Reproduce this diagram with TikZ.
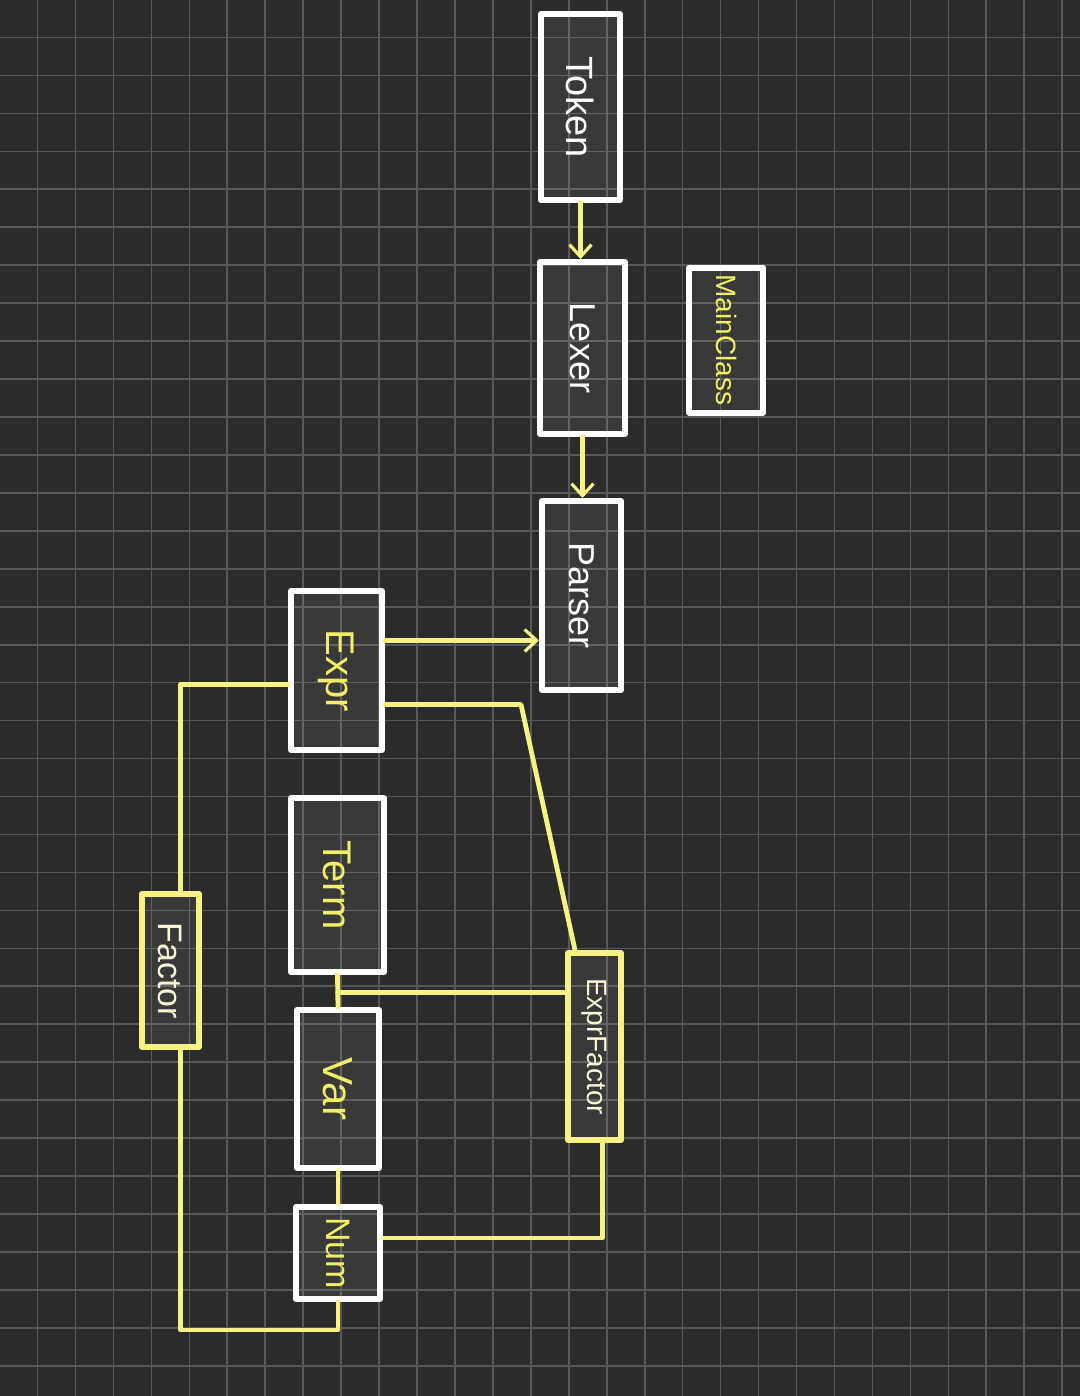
\documentclass[tikz,border=0pt]{standalone}
\usepackage{fontspec}
\setmainfont{Liberation Sans}
\usetikzlibrary{arrows.meta,calc}
\definecolor{bg}{HTML}{2B2B2B}
\definecolor{gridc}{HTML}{585858}
\definecolor{hly}{HTML}{F6F283}
\definecolor{txty}{HTML}{F2EE66}
\definecolor{cream}{HTML}{FBF8D8}
\tikzset{
 box/.style={draw=white, line width=3pt, fill=white, fill opacity=0.07, text opacity=1, inner sep=0pt, line join=round},
 ybox/.style={box, draw=hly},
 wire/.style={draw=hly, line width=2.4pt, line join=round, line cap=round},
 arr/.style={wire, -{Straight Barb[length=6pt,width=11pt,line width=1.6pt]}},
 fs/.style={font=\fontsize{#1}{#1}\selectfont},
}
\begin{document}
\begin{tikzpicture}[x=0.5pt,y=-0.5pt]
\fill[bg] (0,0) rectangle (1080,1396);
\useasboundingbox (0,0) rectangle (1080,1396);
\foreach \i in {0,...,27} \draw[gridc, line width=0.8pt] ({37.5+37.95*\i},0) -- ++(0,1396);
\foreach \i in {0,...,35} \draw[gridc, line width=0.8pt] (0,{37.5+37.95*\i}) -- ++(1080,0);

% boxes
\node[box, minimum width=39.5pt, minimum height=93pt, text=white, fs=19] (token) at (580.5,107) {\rotatebox{-90}{Token}};
\node[box, minimum width=42.5pt, minimum height=86pt, text=white, fs=18] (lexer) at (582.5,348) {\rotatebox{-90}{Lexer}};
\node[box, minimum width=37pt, minimum height=72.5pt, text=txty, fs=14] (mainclass) at (726,340) {\rotatebox{-90}{MainClass}};
\node[box, minimum width=39.5pt, minimum height=94.5pt, text=white, fs=18] (parser) at (581.5,595.5) {\rotatebox{-90}{Parser}};
\node[box, minimum width=45.5pt, minimum height=79.5pt, text=txty, fs=20] (expr) at (336.5,670.5) {\rotatebox{-90}{Expr}};
\node[box, minimum width=46.5pt, minimum height=87pt, text=txty, fs=20] (term) at (337.5,885) {\rotatebox{-90}{Term}};
\node[box, minimum width=41pt, minimum height=79pt, text=txty, fs=21] (var) at (338,1089) {\rotatebox{-90}{Var}};
\node[box, minimum width=42pt, minimum height=46pt, text=txty, fs=17] (num) at (338,1253) {\rotatebox{-90}{Num}};
\node[ybox, minimum width=28.5pt, minimum height=76.5pt, text=cream, fs=17] (factor) at (170.5,970.5) {\rotatebox{-90}{Factor}};
\node[ybox, minimum width=26.5pt, minimum height=93.5pt, text=cream, fs=14] (exprfactor) at (594.5,1046.5) {\rotatebox{-90}{ExprFactor}};

% connectors
\draw[arr] (token.south) -- (token.south |- lexer.north);
\draw[arr] (lexer.south) -- (lexer.south |- parser.north);
\coordinate (ea) at ([yshift=15pt]expr.east);
\draw[arr] (ea) -- (ea -| parser.west);
\coordinate (eb) at ([yshift=-17pt]expr.east);
\draw[wire] (eb) -- ++(136,0) -- ([xshift=5pt]exprfactor.north west);
\draw[wire] ([yshift=-7pt]expr.west) -| ([xshift=5pt]factor.north);
\draw[wire] ([xshift=5pt]factor.south) |- ([yshift=-14pt]num.south) -- (num.south);
\draw[wire] (term.south) -- (var.north);
\coordinate (tv) at ($(term.south)!0.55!(var.north)$);
\draw[wire] (tv) -- (tv -| exprfactor.west);
\draw[wire] (var.south) -- (num.north);
\draw[wire] ([yshift=7.5pt]num.east) -| ([xshift=4pt]exprfactor.south);
\end{tikzpicture}
\end{document}
